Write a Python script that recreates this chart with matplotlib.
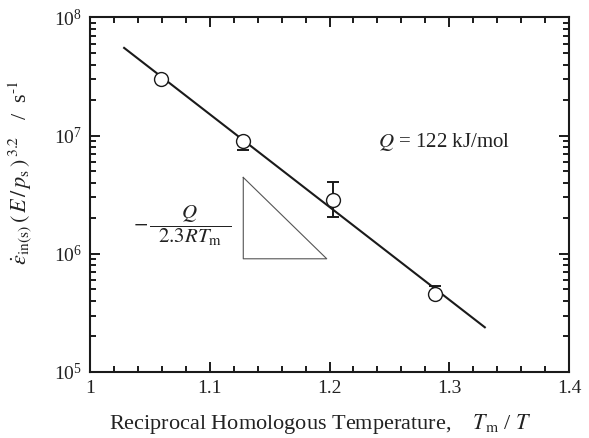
import matplotlib
matplotlib.use("Agg")
import matplotlib.pyplot as plt
from matplotlib.ticker import LogLocator, FixedLocator, FixedFormatter, MultipleLocator, LogFormatterMathtext, NullFormatter

plt.rcParams['font.family'] = ['Liberation Serif', 'DejaVu Serif']
plt.rcParams['mathtext.fontset'] = 'stix'

# Data
x_pts = [1.059, 1.128, 1.203, 1.288]
y_pts = [3.04e7, 9.0e6, 2.83e6, 4.61e5]
y_err_low = [0.0, 1.5e6, 0.80e6, 0.35e5]
y_err_high = [0.0, 0.8e6, 1.22e6, 0.72e5]
line_x = [1.0285, 1.3297]
line_y = [5.53e7, 2.39e5]
tri_x = [1.128, 1.128, 1.1977, 1.128]
tri_y = [4.43e6, 9.08e5, 9.08e5, 4.43e6]
xticks = [1.0, 1.1, 1.2, 1.3, 1.4]
xtick_labels = ['1', '1.1', '1.2', '1.3', '1.4']

fig = plt.figure(figsize=(5.89, 4.38), dpi=100)
ax = fig.add_axes([90/589, 1-372/438, (569-90)/589, (372-17.5)/438])

ax.plot(line_x, line_y, color='#1a1a1a', lw=1.5, zorder=2)
ax.errorbar(x_pts, y_pts, yerr=[y_err_low, y_err_high], fmt='none',
            ecolor='#1a1a1a', elinewidth=1.4, capsize=4, capthick=1.4, zorder=3)
ax.plot(x_pts, y_pts, 'o', ms=10, mfc='white', mec='#1a1a1a', mew=1.0, zorder=4)
ax.plot(tri_x, tri_y, color='#555555', lw=0.8, zorder=2)

ax.set_yscale('log')
ax.set_xlim(1.0, 1.4)
ax.set_ylim(1e5, 1e8)

ax.xaxis.set_major_locator(FixedLocator(xticks))
ax.xaxis.set_major_formatter(FixedFormatter(xtick_labels))
ax.xaxis.set_minor_locator(MultipleLocator(0.02))
ax.yaxis.set_major_locator(LogLocator(base=10, numticks=10))
ax.yaxis.set_major_formatter(LogFormatterMathtext())
ax.yaxis.set_minor_locator(LogLocator(base=10, subs=range(2, 10), numticks=20))
ax.yaxis.set_minor_formatter(NullFormatter())

ax.tick_params(which='both', direction='in', top=True, right=True, width=1.4, colors='#1a1a1a')
ax.tick_params(which='major', length=7, labelsize=14, pad=6, labelcolor='#222222')
ax.tick_params(which='minor', length=4.3)
for s in ax.spines.values():
    s.set_linewidth(1.5)
    s.set_color('#1a1a1a')

ax.set_xlabel(r'Reciprocal Homologous Temperature,    $T_{\rm m}$ / $T$', fontsize=16, color='#222222')
ax.xaxis.set_label_coords(0.482, -0.112)
ax.set_ylabel(r'$\dot{\varepsilon}_{\rm in(s)}\,(\,E\,/\,p_{\rm s}\,)^{\,3.2}$   /  s$^{\text{-1}}$', fontsize=16, color='#222222')
ax.yaxis.set_label_coords(-0.115, 0.562)

ax.text(0.601, 0.650, r'$Q$ = 122 kJ/mol', transform=ax.transAxes, fontsize=15,
        ha='left', va='center', color='#222222')
ax.text(0.192, 0.412, r'$-\,\dfrac{\;\;\;\;Q\;\;\;\;}{\;\;2.3RT_{\rm m}\;\;}$', transform=ax.transAxes,
        fontsize=15, ha='center', va='center', color='#222222')

fig.savefig('out.png', dpi=100)
